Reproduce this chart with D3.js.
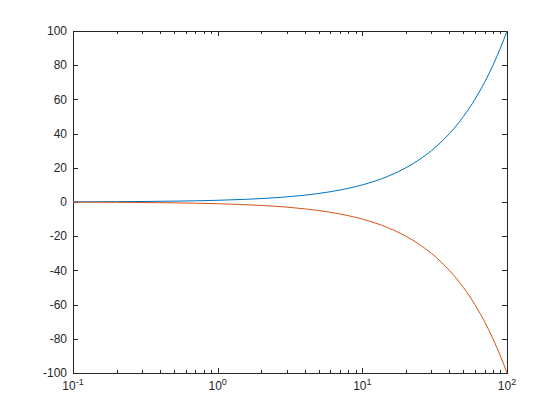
<!DOCTYPE html>
<html>
<head>
<meta charset="utf-8">
<script src="https://d3js.org/d3.v7.min.js"></script>
<style>
  body { margin: 0; background: #fff; }
  text { font-family: "Liberation Sans", Arial, sans-serif; font-size: 12px; fill: #262626; }
</style>
</head>
<body>
<div id="chart"></div>
<script>
// values
var xValues = [0.1, 0.15, 0.2, 0.3, 0.5, 0.7, 1, 1.5, 2, 3, 4, 5, 6, 7, 8, 9, 10,
               15, 20, 25, 30, 35, 40, 45, 50, 55, 60, 65, 70, 75, 80, 85, 90, 95, 100];
var upper = [0.1, 0.15, 0.2, 0.3, 0.5, 0.7, 1, 1.5, 2, 3, 4, 5, 6, 7, 8, 9, 10,
             15, 20, 25, 30, 35, 40, 45, 50, 55, 60, 65, 70, 75, 80, 85, 90, 95, 100];
var lower = [-0.1, -0.15, -0.2, -0.3, -0.5, -0.7, -1, -1.5, -2, -3, -4, -5, -6, -7, -8, -9, -10,
             -15, -20, -25, -30, -35, -40, -45, -50, -55, -60, -65, -70, -75, -80, -85, -90, -95, -100];
var yTicks = [-100, -80, -60, -40, -20, 0, 20, 40, 60, 80, 100];
var xTickExps = [-1, 0, 1, 2];

var W = 560, H = 420;
var margin = {top: 31, right: 53, bottom: 47, left: 73};
var width = W - margin.left - margin.right,
    height = H - margin.top - margin.bottom;

var svg = d3.select("#chart").append("svg")
    .attr("width", W).attr("height", H);
var g = svg.append("g")
    .attr("transform", "translate(" + margin.left + "," + margin.top + ")");

var x = d3.scaleLog().domain([0.1, 100]).range([0, width]);
var y = d3.scaleLinear().domain([-100, 100]).range([height, 0]);

var axisColor = "#262626";
var majorLen = 5, minorLen = 3;

// minor log ticks
var minor = [];
[0.1, 1, 10].forEach(function(base) {
  for (var k = 2; k <= 9; k++) minor.push(base * k);
});

var ticks = g.append("g").attr("stroke", axisColor).attr("stroke-width", 1);

// x ticks (bottom + top)
xTickExps.forEach(function(e) {
  var px = Math.round(x(Math.pow(10, e))) + 0.5;
  ticks.append("line").attr("x1", px).attr("x2", px).attr("y1", height).attr("y2", height - majorLen);
  ticks.append("line").attr("x1", px).attr("x2", px).attr("y1", 0).attr("y2", majorLen);
});
minor.forEach(function(v) {
  var px = Math.round(x(v)) + 0.5;
  ticks.append("line").attr("x1", px).attr("x2", px).attr("y1", height).attr("y2", height - minorLen);
  ticks.append("line").attr("x1", px).attr("x2", px).attr("y1", 0).attr("y2", minorLen);
});

// y ticks (left + right)
yTicks.forEach(function(v) {
  var py = Math.round(y(v)) + 0.5;
  ticks.append("line").attr("x1", 0).attr("x2", majorLen).attr("y1", py).attr("y2", py);
  ticks.append("line").attr("x1", width).attr("x2", width - majorLen).attr("y1", py).attr("y2", py);
});

// box
g.append("rect")
    .attr("x", 0.5).attr("y", 0.5)
    .attr("width", width).attr("height", height)
    .attr("fill", "none").attr("stroke", axisColor).attr("stroke-width", 1);

// y labels
g.selectAll(".ylab").data(yTicks).enter().append("text")
    .attr("class", "ylab")
    .attr("x", -6)
    .attr("y", function(d) { return y(d); })
    .attr("dy", "0.35em")
    .attr("text-anchor", "end")
    .text(function(d) { return d; });

// x labels with superscript exponents
var xl = g.selectAll(".xlab").data(xTickExps).enter().append("text")
    .attr("class", "xlab")
    .attr("x", function(d) { return x(Math.pow(10, d)); })
    .attr("y", height + 17)
    .attr("text-anchor", "middle");
xl.append("tspan").text("10");
xl.append("tspan").attr("dy", -5).style("font-size", "9px").text(function(d) { return d; });

// lines
var line = function(vals) {
  return d3.line()
    .x(function(d, i) { return x(xValues[i]); })
    .y(function(d) { return y(d); })
    .curve(d3.curveMonotoneX)(vals);
};

g.append("path").attr("d", line(upper))
    .attr("fill", "none").attr("stroke", "#0072BD").attr("stroke-width", 1);
g.append("path").attr("d", line(lower))
    .attr("fill", "none").attr("stroke", "#D95319").attr("stroke-width", 1);
</script>
</body>
</html>
